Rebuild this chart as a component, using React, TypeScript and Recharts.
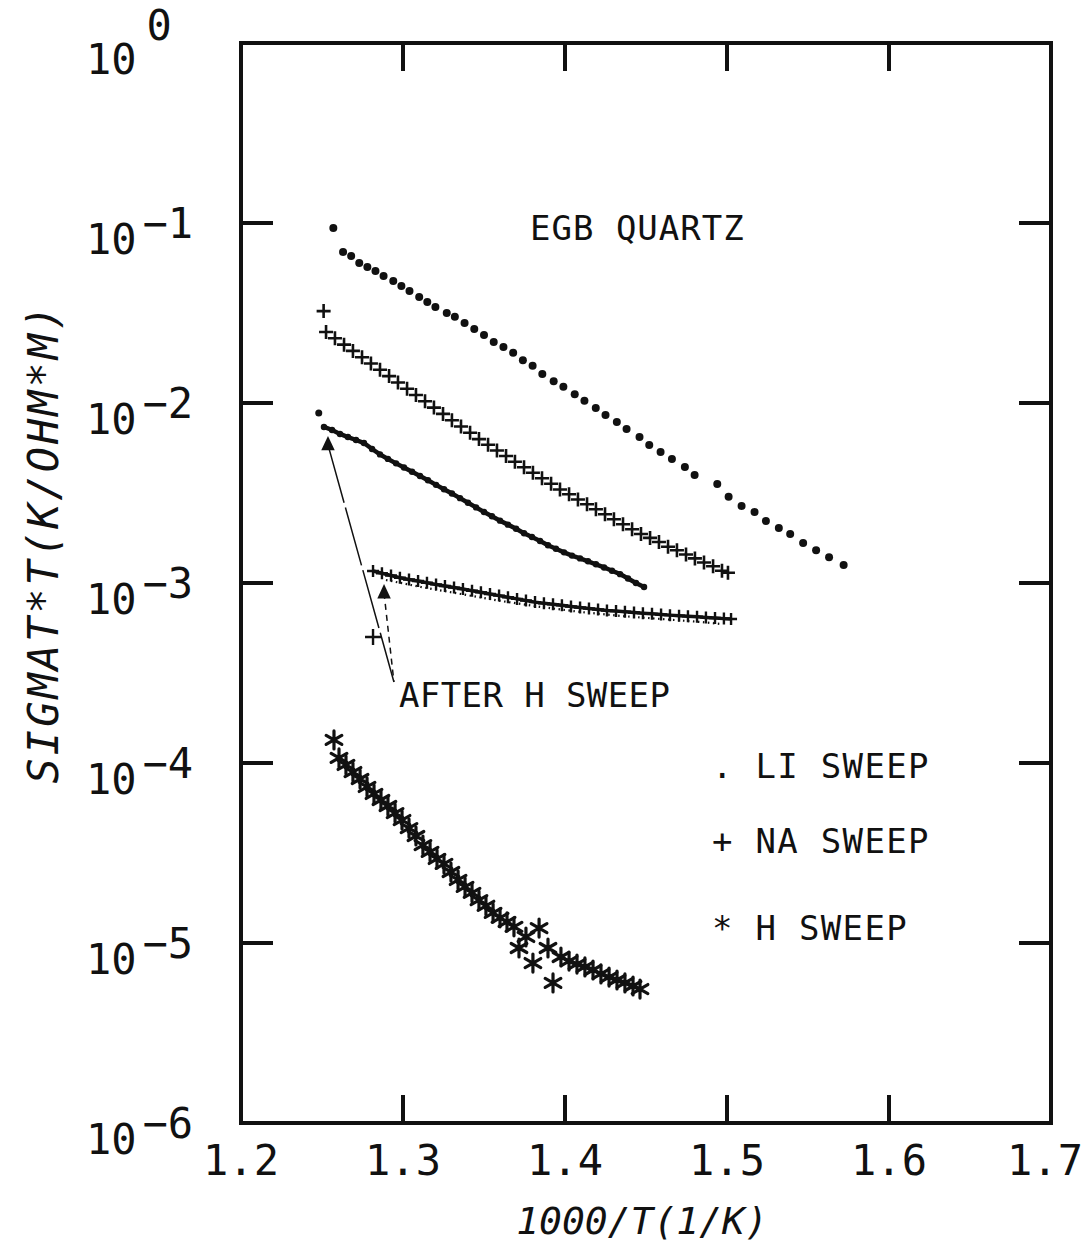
import React from "react";
import { ScatterChart, Scatter, XAxis, YAxis, ReferenceArea, ReferenceLine } from "recharts";

const W = 1089;
const H = 1252;
const PLOT_L = 241;
const PLOT_R = 1051;
const PLOT_T = 43;
const PLOT_B = 1123;
const FONT = "'DejaVu Sans Mono', monospace";
const INK = "#111";

const xTicks = [1.2, 1.3, 1.4, 1.5, 1.6, 1.7];
const yTicks = [1e-6, 1e-5, 1e-4, 1e-3, 1e-2, 1e-1, 1];

// LI sweep, upper dotted run
const liSweep = [
  { x: 1.257, y: 0.0938 },
  { x: 1.263, y: 0.069 }, { x: 1.268, y: 0.0656 }, { x: 1.273, y: 0.06 }, { x: 1.278, y: 0.057 },
  { x: 1.283, y: 0.0541 }, { x: 1.288, y: 0.0508 }, { x: 1.294, y: 0.0476 }, { x: 1.299, y: 0.0447 },
  { x: 1.304, y: 0.0419 }, { x: 1.31, y: 0.0388 }, { x: 1.315, y: 0.0364 }, { x: 1.32, y: 0.0341 },
  { x: 1.327, y: 0.0316 }, { x: 1.332, y: 0.0301 }, { x: 1.338, y: 0.0278 }, { x: 1.344, y: 0.0258 },
  { x: 1.35, y: 0.0239 }, { x: 1.356, y: 0.0218 }, { x: 1.362, y: 0.0205 }, { x: 1.368, y: 0.019 },
  { x: 1.374, y: 0.0173 }, { x: 1.38, y: 0.0161 }, { x: 1.386, y: 0.0145 }, { x: 1.393, y: 0.0132 },
  { x: 1.399, y: 0.0123 }, { x: 1.406, y: 0.0112 }, { x: 1.412, y: 0.0103 }, { x: 1.419, y: 0.00938 },
  { x: 1.425, y: 0.00858 }, { x: 1.432, y: 0.00784 }, { x: 1.438, y: 0.00717 }, { x: 1.446, y: 0.00647 },
  { x: 1.452, y: 0.00585 }, { x: 1.459, y: 0.00535 }, { x: 1.466, y: 0.00489 }, { x: 1.474, y: 0.00441 },
  { x: 1.48, y: 0.00398 }, { x: 1.494, y: 0.00355 }, { x: 1.501, y: 0.00301 }, { x: 1.509, y: 0.00268 },
  { x: 1.517, y: 0.00248 }, { x: 1.524, y: 0.00221 }, { x: 1.532, y: 0.00202 }, { x: 1.539, y: 0.00187 },
  { x: 1.547, y: 0.00167 }, { x: 1.555, y: 0.00152 }, { x: 1.563, y: 0.00139 }, { x: 1.572, y: 0.00126 },
];

// NA sweep, crosses
const naSweep = [
  { x: 1.251, y: 0.0324 },
  { x: 1.2525, y: 0.0248 }, { x: 1.258, y: 0.02288 }, { x: 1.2636, y: 0.0211 }, { x: 1.2691, y: 0.01947 },
  { x: 1.2747, y: 0.01796 }, { x: 1.2802, y: 0.01657 }, { x: 1.2858, y: 0.01529 }, { x: 1.2914, y: 0.01411 },
  { x: 1.2969, y: 0.01301 }, { x: 1.3025, y: 0.01201 }, { x: 1.308, y: 0.01108 }, { x: 1.3136, y: 0.01022 },
  { x: 1.3191, y: 0.00943 }, { x: 1.3247, y: 0.0087 }, { x: 1.3302, y: 0.00802 }, { x: 1.3358, y: 0.0074 },
  { x: 1.3414, y: 0.00683 }, { x: 1.3469, y: 0.0063 }, { x: 1.3525, y: 0.00586 }, { x: 1.358, y: 0.00545 },
  { x: 1.3636, y: 0.00508 }, { x: 1.3691, y: 0.00472 }, { x: 1.3747, y: 0.0044 }, { x: 1.3802, y: 0.0041 },
  { x: 1.3858, y: 0.00382 }, { x: 1.3914, y: 0.00356 }, { x: 1.3969, y: 0.00331 }, { x: 1.4025, y: 0.00311 },
  { x: 1.408, y: 0.00291 }, { x: 1.4136, y: 0.00274 }, { x: 1.4191, y: 0.00257 }, { x: 1.4247, y: 0.00241 },
  { x: 1.4302, y: 0.00226 }, { x: 1.4358, y: 0.00212 }, { x: 1.4414, y: 0.00199 }, { x: 1.4469, y: 0.00187 },
  { x: 1.4525, y: 0.00178 }, { x: 1.458, y: 0.00169 }, { x: 1.4636, y: 0.00159 }, { x: 1.4691, y: 0.00152 },
  { x: 1.4747, y: 0.00144 }, { x: 1.4802, y: 0.00137 }, { x: 1.4858, y: 0.0013 }, { x: 1.4914, y: 0.00124 },
  { x: 1.4969, y: 0.00117 }, { x: 1.5006, y: 0.00114 },
];

// LI sweep after H sweep (dense dots)
const liAfterFirst = [{ x: 1.248, y: 0.0088 }];
const liAfter = [
  { x: 1.2512, y: 0.00736 }, { x: 1.2562, y: 0.00708 }, { x: 1.2611, y: 0.00673 }, { x: 1.266, y: 0.00647 },
  { x: 1.271, y: 0.00623 }, { x: 1.2759, y: 0.00599 }, { x: 1.2809, y: 0.00555 }, { x: 1.2858, y: 0.00518 },
  { x: 1.2907, y: 0.00489 }, { x: 1.2957, y: 0.00462 }, { x: 1.3006, y: 0.00438 }, { x: 1.3056, y: 0.00415 },
  { x: 1.3105, y: 0.00393 }, { x: 1.3154, y: 0.00372 }, { x: 1.3204, y: 0.00351 }, { x: 1.3253, y: 0.00332 },
  { x: 1.3302, y: 0.00314 }, { x: 1.3352, y: 0.00296 }, { x: 1.3401, y: 0.00279 }, { x: 1.3451, y: 0.00263 },
  { x: 1.35, y: 0.00248 }, { x: 1.3549, y: 0.00235 }, { x: 1.3599, y: 0.00222 }, { x: 1.3648, y: 0.00211 },
  { x: 1.3698, y: 0.002 }, { x: 1.3747, y: 0.00189 }, { x: 1.3796, y: 0.0018 }, { x: 1.3846, y: 0.00171 },
  { x: 1.3895, y: 0.00162 }, { x: 1.3944, y: 0.00155 }, { x: 1.3994, y: 0.00148 }, { x: 1.4043, y: 0.00142 },
  { x: 1.4093, y: 0.00137 }, { x: 1.4142, y: 0.00132 }, { x: 1.4191, y: 0.00127 }, { x: 1.4241, y: 0.00122 },
  { x: 1.429, y: 0.00117 }, { x: 1.434, y: 0.00112 }, { x: 1.4389, y: 0.00106 }, { x: 1.4438, y: 0.001 },
  { x: 1.4488, y: 0.00095 },
];

// NA sweep after H sweep (crosses on a line, dotted trace under it)
const naAfter = [
  { x: 1.2815, y: 0.001166 }, { x: 1.287, y: 0.001132 }, { x: 1.2926, y: 0.0011 }, { x: 1.2981, y: 0.001069 },
  { x: 1.3037, y: 0.001045 }, { x: 1.3093, y: 0.001025 }, { x: 1.3148, y: 0.001003 }, { x: 1.3204, y: 0.000982 },
  { x: 1.3259, y: 0.000962 }, { x: 1.3315, y: 0.000943 }, { x: 1.337, y: 0.000925 }, { x: 1.3426, y: 0.000906 },
  { x: 1.3481, y: 0.000888 }, { x: 1.3537, y: 0.000869 }, { x: 1.3593, y: 0.000851 }, { x: 1.3648, y: 0.000833 },
  { x: 1.3704, y: 0.000816 }, { x: 1.3759, y: 0.000799 }, { x: 1.3815, y: 0.000783 }, { x: 1.387, y: 0.000772 },
  { x: 1.3926, y: 0.000762 }, { x: 1.3981, y: 0.000752 }, { x: 1.4037, y: 0.000741 }, { x: 1.4093, y: 0.000731 },
  { x: 1.4148, y: 0.000721 }, { x: 1.4204, y: 0.000712 }, { x: 1.4259, y: 0.000704 }, { x: 1.4315, y: 0.000698 },
  { x: 1.437, y: 0.000693 }, { x: 1.4426, y: 0.000686 }, { x: 1.4481, y: 0.00068 }, { x: 1.4537, y: 0.000674 },
  { x: 1.4593, y: 0.000668 }, { x: 1.4648, y: 0.000663 }, { x: 1.4704, y: 0.000658 }, { x: 1.4759, y: 0.000653 },
  { x: 1.4815, y: 0.000649 }, { x: 1.487, y: 0.000644 }, { x: 1.4926, y: 0.000639 }, { x: 1.4981, y: 0.000634 },
  { x: 1.5025, y: 0.000631 },
];
const naAfterTrace = [
  { x: 1.2895, y: 0.001039 }, { x: 1.3111, y: 0.00095 }, { x: 1.3358, y: 0.000869 }, { x: 1.3605, y: 0.000794 },
  { x: 1.3852, y: 0.000736 }, { x: 1.4099, y: 0.00069 }, { x: 1.4346, y: 0.000656 }, { x: 1.4593, y: 0.000631 },
  { x: 1.484, y: 0.000607 }, { x: 1.4963, y: 0.000592 },
];
const naStray = [{ x: 1.2815, y: 0.000501 }];
const afterTriangles = [{ x: 1.2537, y: 0.00585 }, { x: 1.2883, y: 0.00088 }];
const labelPoint = { x: 1.2944, y: 0.000282 };

// H sweep, asterisks
const hSweep = [
  { x: 1.2574, y: 1.343e-4 },
  { x: 1.2605, y: 1.067e-4 }, { x: 1.2648, y: 9.75e-5 }, { x: 1.2691, y: 8.91e-5 }, { x: 1.2735, y: 8.15e-5 },
  { x: 1.2778, y: 7.36e-5 }, { x: 1.2821, y: 6.73e-5 }, { x: 1.2864, y: 6.23e-5 }, { x: 1.2907, y: 5.77e-5 },
  { x: 1.2951, y: 5.27e-5 }, { x: 1.2994, y: 4.82e-5 }, { x: 1.3037, y: 4.35e-5 }, { x: 1.308, y: 3.93e-5 },
  { x: 1.3123, y: 3.5e-5 }, { x: 1.3167, y: 3.21e-5 }, { x: 1.321, y: 2.93e-5 }, { x: 1.3253, y: 2.75e-5 },
  { x: 1.3296, y: 2.48e-5 }, { x: 1.334, y: 2.24e-5 }, { x: 1.3383, y: 2.05e-5 }, { x: 1.3426, y: 1.9e-5 },
  { x: 1.3469, y: 1.73e-5 }, { x: 1.3512, y: 1.61e-5 }, { x: 1.3556, y: 1.47e-5 }, { x: 1.3599, y: 1.38e-5 },
  { x: 1.3642, y: 1.31e-5 }, { x: 1.3685, y: 1.23e-5 }, { x: 1.3759, y: 1.08e-5 }, { x: 1.384, y: 1.21e-5 },
  { x: 1.3716, y: 9.38e-6 }, { x: 1.3802, y: 7.74e-6 }, { x: 1.3926, y: 6.0e-6 }, { x: 1.3895, y: 9.38e-6 },
  { x: 1.3975, y: 8.36e-6 }, { x: 1.4025, y: 7.94e-6 }, { x: 1.4074, y: 7.64e-6 }, { x: 1.4123, y: 7.36e-6 },
  { x: 1.4173, y: 7.08e-6 }, { x: 1.4222, y: 6.73e-6 }, { x: 1.4272, y: 6.47e-6 }, { x: 1.4321, y: 6.23e-6 },
  { x: 1.437, y: 6.0e-6 }, { x: 1.442, y: 5.77e-6 }, { x: 1.4463, y: 5.55e-6 },
];

const dot = (r: number) => (p: any) => <circle cx={p.cx} cy={p.cy} r={r} fill={INK} />;

const plus = (s: number, w: number) => (p: any) => (
  <path
    d={`M${p.cx - s},${p.cy}H${p.cx + s}M${p.cx},${p.cy - s}V${p.cy + s}`}
    stroke={INK}
    strokeWidth={w}
    fill="none"
  />
);

const star = (s: number, w: number) => (p: any) => {
  const dx = s * 0.87;
  const dy = s * 0.5;
  const { cx, cy } = p;
  return (
    <path
      d={`M${cx},${cy - s}V${cy + s}M${cx - dx},${cy - dy}L${cx + dx},${cy + dy}M${cx - dx},${cy + dy}L${cx + dx},${cy - dy}`}
      stroke={INK}
      strokeWidth={w}
      strokeLinecap="round"
      fill="none"
    />
  );
};

const triangle = (s: number) => (p: any) => (
  <path d={`M${p.cx},${p.cy - s}L${p.cx + s * 0.75},${p.cy + s * 0.6}L${p.cx - s * 0.75},${p.cy + s * 0.6}Z`} fill={INK} />
);

const XTick = (props: any) => {
  const { x, payload } = props;
  const v = payload.value;
  const inner = v > 1.21 && v < 1.69;
  const shift = v > 1.69 ? -6 : 0;
  return (
    <g>
      {inner && <line x1={x} x2={x} y1={PLOT_B} y2={PLOT_B - 28} stroke={INK} strokeWidth={4} />}
      {inner && <line x1={x} x2={x} y1={PLOT_T} y2={PLOT_T + 28} stroke={INK} strokeWidth={4} />}
      <text x={x + shift} y={PLOT_B + 52} textAnchor="middle" fontFamily={FONT} fontSize={42} fill={INK}>
        {v.toFixed(1)}
      </text>
    </g>
  );
};

const YTick = (props: any) => {
  const { y, payload } = props;
  const e = Math.round(Math.log10(payload.value));
  const inner = e > -6 && e < 0;
  return (
    <g>
      {inner && <line x1={PLOT_L} x2={PLOT_L + 32} y1={y} y2={y} stroke={INK} strokeWidth={4} />}
      {inner && <line x1={PLOT_R - 32} x2={PLOT_R} y1={y} y2={y} stroke={INK} strokeWidth={4} />}
      <text x={86} y={y + 31} fontFamily={FONT} fontSize={42} fill={INK}>
        10
        <tspan dx={e === 0 ? 10 : 6} dy={e === 0 ? -34 : -16}>
          {e === 0 ? "0" : `\u2212${-e}`}
        </tspan>
      </text>
    </g>
  );
};

const textStyle = { fontFamily: FONT, fill: INK } as const;

export default function App() {
  return (
    <div style={{ position: "relative", width: W, height: H, background: "#fff" }}>
      <style>{"body{margin:0;background:#fff}"}</style>
      <ScatterChart width={W} height={H} margin={{ top: PLOT_T, right: W - PLOT_R, bottom: 128, left: 240 }}>
        <XAxis
          type="number"
          dataKey="x"
          domain={[1.2, 1.7]}
          ticks={xTicks}
          interval={0}
          height={1}
          axisLine={false}
          tickLine={false}
          tick={(p: any) => <XTick {...p} />}
          allowDataOverflow
        />
        <YAxis
          type="number"
          dataKey="y"
          scale="log"
          domain={[1e-6, 1]}
          ticks={yTicks}
          interval={0}
          width={1}
          axisLine={false}
          tickLine={false}
          tick={(p: any) => <YTick {...p} />}
          allowDataOverflow
        />
        <ReferenceArea x1={1.2} x2={1.7} y1={1e-6} y2={1} fill="none" stroke={INK} strokeWidth={4} ifOverflow="visible" />
        <ReferenceLine
          segment={[afterTriangles[0], labelPoint]}
          stroke={INK}
          strokeWidth={1.5}
          strokeDasharray="60 5"
          ifOverflow="visible"
        />
        <ReferenceLine
          segment={[afterTriangles[1], labelPoint]}
          stroke={INK}
          strokeWidth={1.5}
          strokeDasharray="6 5"
          ifOverflow="visible"
        />
        <Scatter data={liSweep} shape={dot(4)} isAnimationActive={false} />
        <Scatter data={naSweep} shape={plus(7, 2.6)} isAnimationActive={false} />
        <Scatter
          data={liAfter}
          shape={dot(3.2)}
          line={{ stroke: INK, strokeWidth: 4.5 }}
          isAnimationActive={false}
        />
        <Scatter data={liAfterFirst} shape={dot(3.5)} isAnimationActive={false} />
        <Scatter
          data={naAfterTrace}
          shape={() => <g />}
          line={{ stroke: INK, strokeWidth: 2.2, strokeDasharray: "1.5 3.5" }}
          isAnimationActive={false}
        />
        <Scatter
          data={naAfter}
          shape={plus(6, 2.4)}
          line={{ stroke: INK, strokeWidth: 3.5 }}
          isAnimationActive={false}
        />
        <Scatter data={naStray} shape={plus(8, 2.4)} isAnimationActive={false} />
        <Scatter data={afterTriangles} shape={triangle(9)} isAnimationActive={false} />
        <Scatter data={hSweep} shape={star(9, 3.2)} isAnimationActive={false} />
      </ScatterChart>
      <svg width={W} height={H} style={{ position: "absolute", left: 0, top: 0, pointerEvents: "none" }}>
        <text
          {...textStyle}
          x={58}
          y={543}
          fontSize={42}
          fontStyle="italic"
          letterSpacing={3}
          textAnchor="middle"
          transform="rotate(-90 58 543)"
        >
          SIGMAT*T(K/OHM*M)
        </text>
        <text {...textStyle} x={642} y={1234} fontSize={38} fontStyle="italic" textAnchor="middle">
          1000/T(1/K)
        </text>
        <text {...textStyle} x={530} y={240} fontSize={34} letterSpacing={1}>
          EGB QUARTZ
        </text>
        <text {...textStyle} x={399} y={707} fontSize={34} letterSpacing={0.4}>
          AFTER H SWEEP
        </text>
        <text {...textStyle} x={712} y={778} fontSize={34} letterSpacing={1.3}>
          . LI SWEEP
        </text>
        <text {...textStyle} x={712} y={853} fontSize={34} letterSpacing={1.3}>
          + NA SWEEP
        </text>
        <text {...textStyle} x={712} y={940} fontSize={34} letterSpacing={1.3}>
          * H SWEEP
        </text>
      </svg>
    </div>
  );
}
